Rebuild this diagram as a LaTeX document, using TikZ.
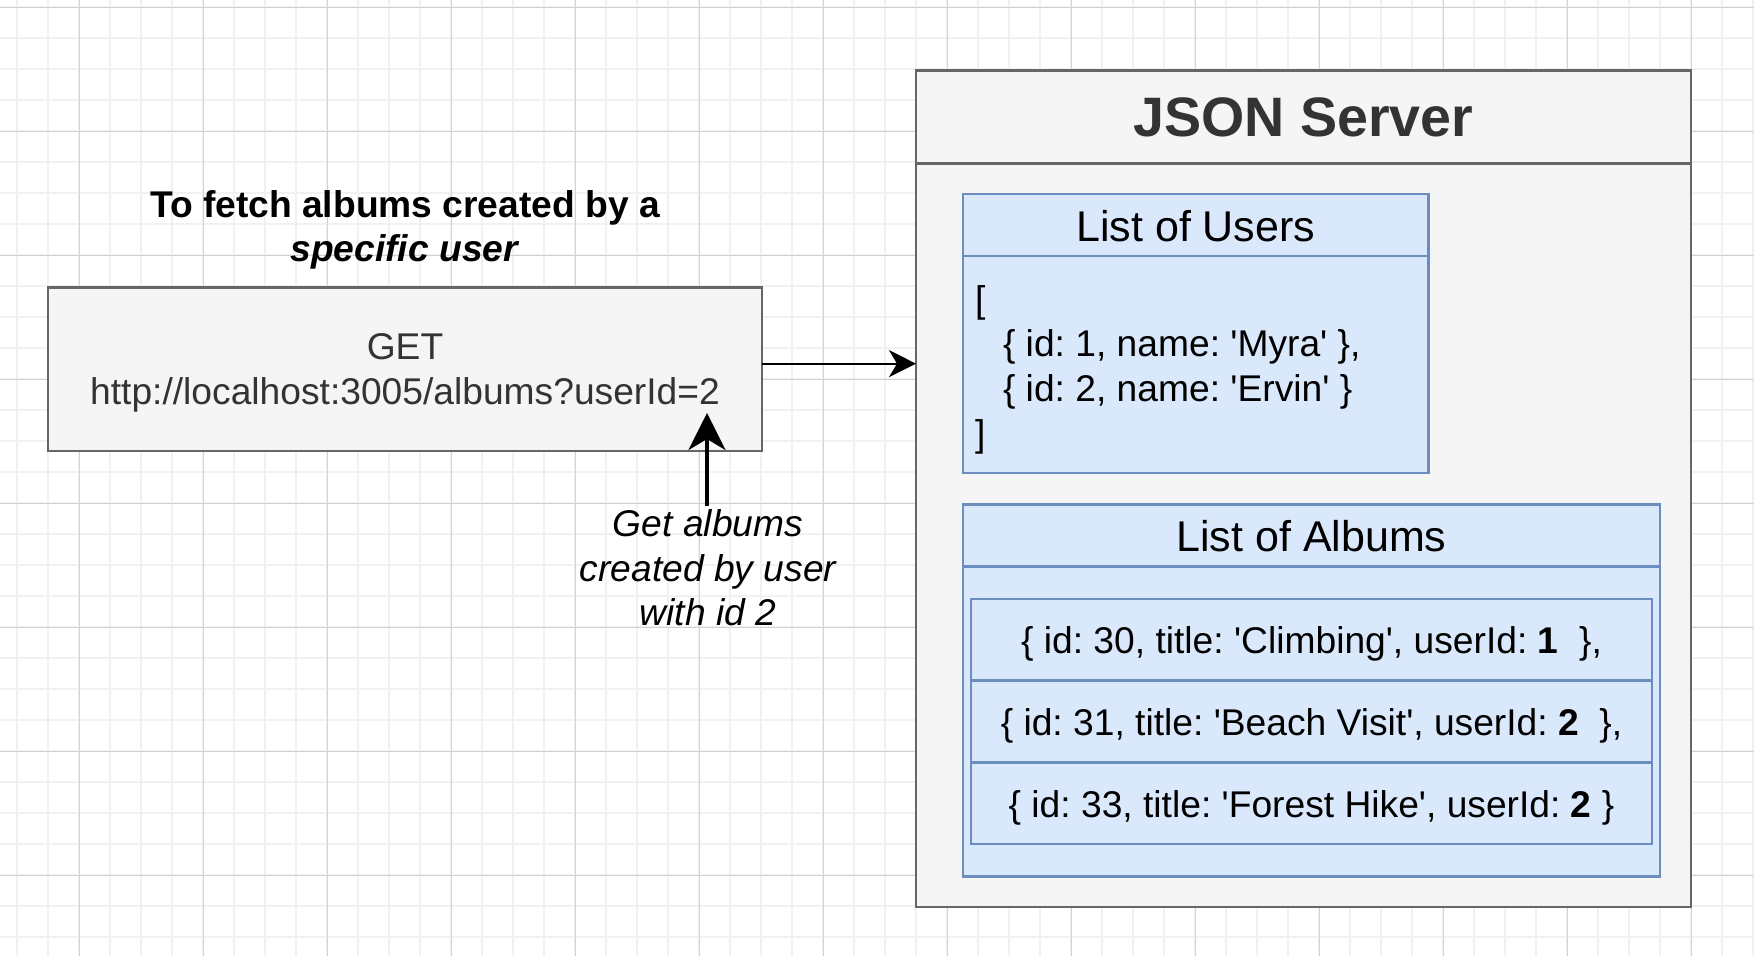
\documentclass[tikz,border=0pt]{standalone}
\usepackage{fontspec}
\setmainfont{Liberation Sans}[Ligatures=TeXOff]
\usetikzlibrary{arrows.meta}
\frenchspacing
\definecolor{gfill}{HTML}{F5F5F5}
\definecolor{gstroke}{HTML}{666666}
\definecolor{gtext}{HTML}{333333}
\definecolor{bfill}{HTML}{DAE8FC}
\definecolor{bstroke}{HTML}{6C8EBF}
\definecolor{gridminorc}{HTML}{F1F1F1}
\definecolor{gridmajorc}{HTML}{D2D2D2}
\newcommand\fsBody{\fontsize{18.6pt}{22.3pt}\selectfont}
\newcommand\fsHead{\fontsize{21.5pt}{25.8pt}\selectfont}
\newcommand\fsBig{\fontsize{27.8pt}{33pt}\selectfont}
\tikzset{
  gridminor/.style={draw=gridminorc, line width=0.85pt},
  gridmajor/.style={draw=gridmajorc, line width=0.55pt},
  graybox/.style={draw=gstroke, fill=gfill, line width=1.4pt, inner sep=0pt, outer sep=0pt, text=gtext},
  bluebox/.style={draw=bstroke, fill=bfill, line width=1.2pt, inner sep=0pt, outer sep=0pt, text=black},
  rowbox/.style={bluebox, minimum width=340.5pt, minimum height=40.85pt, font=\fsBody, text height=14pt, text depth=0pt},
  grayrule/.style={draw=gstroke, line width=1.4pt},
  bluerule/.style={draw=bstroke, line width=1.2pt},
  conn/.style={-{Stealth[length=13.5pt,width=13.5pt,inset=4pt]}, line width=1pt, black},
  bigconn/.style={-{Stealth[length=18.5pt,width=18.5pt,inset=5.5pt]}, line width=2pt, black},
  plaintext/.style={inner sep=0pt, outer sep=0pt, align=center, font=\fsBody}
}
\begin{document}
\begin{tikzpicture}[x=0.5pt,y=-0.5pt]
\useasboundingbox (0,0) rectangle (1754,956);
\fill[white] (0,0) rectangle (1754,956);
% grid
\foreach \i in {0,...,56} \draw[gridminor] ({17.3+31*\i},0) -- ({17.3+31*\i},956);
\foreach \i in {0,...,30} \draw[gridminor] (0,{7.3+31*\i}) -- (1754,{7.3+31*\i});
\foreach \i in {0,...,13} \draw[gridmajor] ({79.3+124*\i},0) -- ({79.3+124*\i},956);
\foreach \i in {0,...,7} \draw[gridmajor] (0,{7.3+124*\i}) -- (1754,{7.3+124*\i});

% left side
\node[plaintext, font=\fsBody\bfseries] (title) at (405,229.7)
  {To fetch albums created by a\\\textit{specific user}};
\node[graybox, minimum width=357pt, minimum height=81.75pt, align=center, font=\fsBody, text depth=0pt] (get) at (405,369.25)
  {GET\\http://localhost:3005/albums?userId=2};
\node[plaintext, inner ysep=2pt, font=\fsBody\itshape] (lbl) at (708,568)
  {Get albums\\created by user\\with id 2};
\coordinate (tip) at (707,413);

% JSON server
\node[graybox, minimum width=387.5pt, minimum height=418.25pt] (server) at (1303.5,488.75) {};
\draw[grayrule] ([yshift=-46.5pt]server.north west) -- ([yshift=-46.5pt]server.north east);
\node[plaintext, font=\fsBig\bfseries, text=gtext] (srvtitle) at (1303.5,117) {JSON Server};

% users
\node[bluebox, minimum width=232.75pt, minimum height=139.5pt] (users) at (1195.75,333.5) {};
\draw[bluerule] ([yshift=-31.15pt]users.north west) -- ([yshift=-31.15pt]users.north east);
\node[plaintext, font=\fsHead] (utitle) at (1195.75,226) {List of Users};
\node[plaintext, anchor=west, align=left] (ulist) at (975,369.5)
  {[\\\hspace*{14pt}\{ id: 1, name: 'Myra' \},\\\hspace*{14pt}\{ id: 2, name: 'Ervin' \}\\]};

% albums
\node[bluebox, minimum width=348.5pt, minimum height=185.9pt] (albums) at (1311.5,690.4) {};
\draw[bluerule] ([yshift=-30.9pt]albums.north west) -- ([yshift=-30.9pt]albums.north east);
\node[plaintext, font=\fsHead] (atitle) at (1311.5,536.3) {List of Albums};
\node[rowbox] (row1) at (1311.5,639.85)
  {\{ id: 30, title: 'Climbing', userId: \textbf{1}\ \ \},};
\node[rowbox] (row2) at (1311.5,721.5)
  {\{ id: 31, title: 'Beach Visit', userId: \textbf{2}\ \ \},};
\node[rowbox] (row3) at (1311.5,803.15)
  {\{ id: 33, title: 'Forest Hike', userId: \textbf{2} \}};

% connectors
\draw[conn] ([yshift=2.8pt]get.east) -- ([yshift=2.8pt]get.east -| server.west);
\draw[bigconn] (lbl.north -| tip) -- (tip);
\end{tikzpicture}
\end{document}
